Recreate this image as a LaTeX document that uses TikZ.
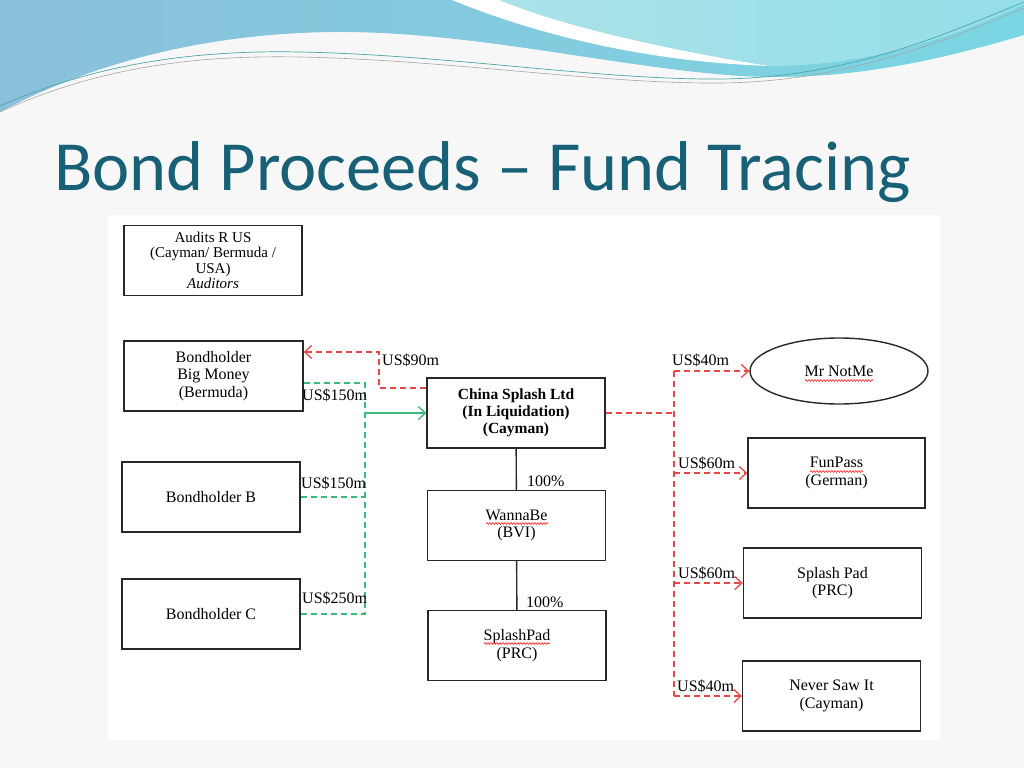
\documentclass[tikz,border=0pt]{standalone}
\usepackage{fontspec}
\setmainfont{Liberation Serif}
\newfontfamily\titlefont{Carlito}
\usetikzlibrary{shapes.geometric,decorations.pathmorphing,arrows.meta}
\definecolor{titleteal}{RGB}{23,96,118}
\definecolor{waveblue}{RGB}{139,192,218}
\definecolor{wavecyan}{RGB}{122,214,226}
\definecolor{waveaqua}{RGB}{170,226,232}
\definecolor{flowred}{RGB}{232,70,70}
\definecolor{flowgreen}{RGB}{60,185,125}
\definecolor{boxline}{RGB}{40,40,40}
\begin{document}
\begin{tikzpicture}[x=1pt, y=-1pt,
    entity/.style={draw=boxline, line width=1.4pt, minimum width=178pt, minimum height=70pt, align=center, font=\fontsize{16}{17.5}\selectfont, inner sep=2pt},
    person/.style={entity, ellipse, minimum width=178pt, minimum height=66pt},
    redflow/.style={draw=flowred, dash pattern=on 6pt off 4pt, line width=1.4pt},
    greenflow/.style={draw=flowgreen, dash pattern=on 6pt off 4pt, line width=1.4pt},
    tip/.style={-{Straight Barb[length=7pt,width=13pt,line width=1.3pt]}},
    amount/.style={anchor=west, inner sep=0pt, font=\fontsize{16}{17}\selectfont},
    squiggle/.style={draw=red!80, line width=0.7pt, decorate, decoration={snake, amplitude=0.9pt, segment length=3pt}}]
  \useasboundingbox (0,0) rectangle (1024,768);
  \fill[black!3] (0,0) rectangle (1024,768);
  % header waves
  \shade[left color=waveblue, right color=wavecyan] (0,0) -- (1024,0) -- (1024,35)
    .. controls (900,72) and (820,80) .. (740,76)
    .. controls (600,66) and (450,25) .. (300,33)
    .. controls (160,40) and (60,80) .. (0,112) -- cycle;
  \fill[white] (452,0) .. controls (540,36) and (650,62) .. (770,66)
    .. controls (700,55) and (570,30) .. (500,0) -- cycle;
  \shade[left color=waveaqua, right color=wavecyan!80] (500,0) .. controls (570,30) and (700,55) .. (770,66)
    .. controls (880,66) and (970,30) .. (1024,4) -- (1024,0) -- cycle;
  \draw[teal!70, line width=0.7pt] (0,106) .. controls (100,62) and (200,50) .. (300,52)
    .. controls (450,55) and (600,80) .. (720,79) .. controls (850,78) and (950,32) .. (1024,2);
  \draw[gray!70, line width=0.6pt] (0,112) .. controls (100,66) and (200,55) .. (300,57)
    .. controls (450,60) and (600,84) .. (720,83) .. controls (850,82) and (950,38) .. (1024,8);
  % title
  \node[anchor=base west, inner sep=0pt, text=titleteal, font=\titlefont\fontsize{70.5}{74}\selectfont] (title) at (54,190) {Bond Proceeds – Fund Tracing};
  % diagram sheet
  \fill[white] (108,215) rectangle (940,740);

  \node[entity, font=\fontsize{15}{15.5}\selectfont] (audits) at (213,260.5) {Audits R US\\(Cayman/ Bermuda /\\USA)\\\textit{Auditors}};
  \node[entity, minimum width=179pt] (bigmoney) at (213.5,376) {Bondholder\\Big Money\\(Bermuda)};
  \node[entity] (holderb) at (211,497) {Bondholder B};
  \node[entity] (holderc) at (211,614) {Bondholder C};
  \node[entity, font=\bfseries\fontsize{15.5}{17}\selectfont] (china) at (516,413) {China Splash Ltd\\(In Liquidation)\\(Cayman)};
  \node[entity] (wannabe) at (516.5,525.5) {WannaBe\\(BVI)};
  \node[entity] (splashpad) at (517,645.5) {SplashPad\\(PRC)};
  \node[person] (notme) at (839,371) {Mr NotMe};
  \node[entity, minimum width=177pt] (funpass) at (836.5,473) {FunPass\\(German)};
  \node[entity] (splashprc) at (832.5,583) {Splash Pad\\(PRC)};
  \node[entity] (neversaw) at (831.5,696) {Never Saw It\\(Cayman)};

  \coordinate (gbus) at (365,383);
  \coordinate (rback) at (379,352);
  \coordinate (rbus) at (674,413);

  % bond money in
  \draw[greenflow] ([yshift=-7pt]bigmoney.east) -- (gbus) -- (gbus |- holderc.east) -- (holderc.east);
  \draw[greenflow] (holderb.east) -- (holderb.east -| gbus);
  \draw[flowgreen, line width=1.4pt, tip] (gbus |- china.west) -- (china.west);
  % money out
  \draw[redflow, tip] ([yshift=25pt]china.west) -| (rback) -- (rback -| bigmoney.east);
  \draw[redflow] (china.east) -- (rbus);
  \draw[redflow] (notme.west -| rbus) -- (neversaw.west -| rbus);
  \foreach \t in {notme, funpass, splashprc, neversaw}
    \draw[redflow, tip] (\t.west -| rbus) -- (\t.west);
  % ownership
  \draw[boxline, line width=1.4pt] (china) -- (wannabe) -- (splashpad);

  \node[amount] (a90) at (382,360) {US\$90m};
  \node[amount] (a150) at (302,395) {US\$150m};
  \node[amount] (a150b) at (301,483) {US\$150m};
  \node[amount] (a250) at (302,598) {US\$250m};
  \node[amount] (a40) at (672,360) {US\$40m};
  \node[amount] (a60) at (678,463) {US\$60m};
  \node[amount] (a60b) at (678,573) {US\$60m};
  \node[amount] (a40b) at (677,686) {US\$40m};
  \node[amount] (own1) at (527,481) {100\%};
  \node[amount] (own2) at (526,602) {100\%};

  % spelling marks
  \draw[squiggle] (805,380.5) -- (873,380.5);
  \draw[squiggle] (810,471.5) -- (863,471.5);
  \draw[squiggle] (486,523.5) -- (548,523.5);
  \draw[squiggle] (484,643.5) -- (550,643.5);
\end{tikzpicture}
\end{document}
